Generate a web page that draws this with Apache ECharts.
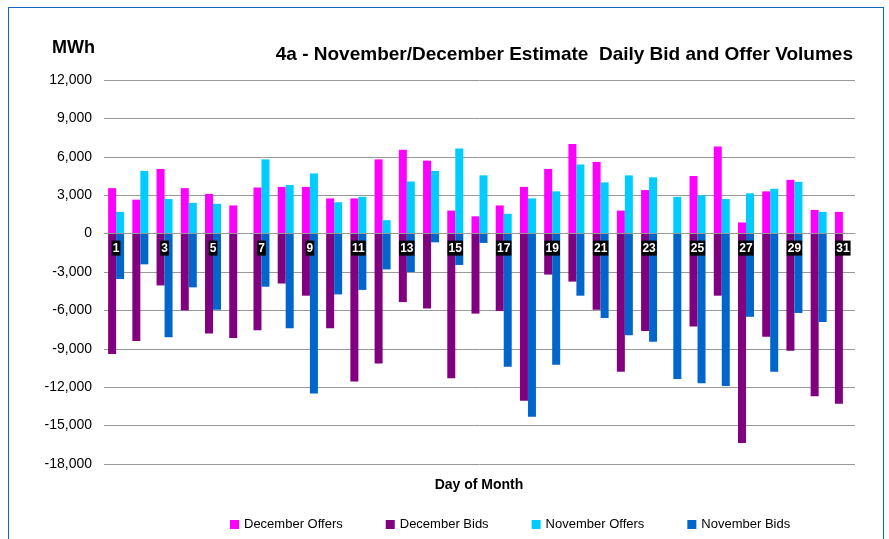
<!DOCTYPE html>
<html lang="en">
  <head>
    <meta charset="UTF-8" />
    <title>Daily Bid and Offer Volumes</title>
    <style>
      * {
        margin: 0;
        padding: 0;
      }
      body {
        background: #fff;
      }
      #frame {
        position: absolute;
        left: 8px;
        top: 7px;
        width: 874px;
        height: 560px;
        border: 1px solid #1565c8;
      }
    </style>
  </head>
  <body>
    <div id="frame"></div>
    <div id="main" style="position: absolute; left: 0; top: 0; width: 889px; height: 539px;"></div>
    <script src="https://cdn.jsdelivr.net/npm/echarts@6/dist/echarts.min.js"></script>
    <script>
      // 数据
      const days = [];
      for (let i = 1; i <= 31; i++) days.push(String(i));

      const decOffers = [3550, 2650, 5050, 3550, 3100, 2200, 3600, 3650, 3650, 2750,
        2750, 5800, 6550, 5700, 1800, 1350, 2200, 3650, 5050, 7000,
        5600, 1800, 3400, null, 4500, 6800, 870, 3300, 4200, 1850, 1700];
      const decBids = [-9400, -8400, -4050, -6000, -7800, -8150, -7550, -3900, -4850, -7400,
        -11550, -10150, -5350, -5850, -11300, -6250, -6050, -13050, -3200, -3750,
        -5950, -10800, -7600, null, -7250, -4850, -16350, -8050, -9150, -12700, -13300];
      const novOffers = [1700, 4900, 2700, 2400, 2330, null, 5800, 3800, 4700, 2450,
        2870, 1050, 4070, 4900, 6650, 4550, 1550, 2750, 3300, 5400,
        4000, 4550, 4400, 2870, 3000, 2700, 3150, 3500, 4050, 1700, null];
      const novBids = [-3550, -2400, -8100, -4200, -5950, null, -4150, -7400, -12500, -4750,
        -4400, -2800, -3000, -680, -2450, -730, -10400, -14300, -10250, -4850,
        -6600, -7950, -8450, -11350, -11700, -11900, -6500, -10800, -6200, -6900, null];

      const yMin = -18000;
      const yMax = 12000;
      const font = "Liberation Sans, Arial, sans-serif";

      function draw() {
        let myEcharts = echarts.init(document.getElementById("main"));
        // 网格高度，用来把x轴移到0线上
        const gridTop = 80;
        const gridBottom = 75;
        const gridH = 539 - gridTop - gridBottom;
        const zeroOffset = -gridH * (0 - yMin) / (yMax - yMin);
        let option = {
          animation: false,
          textStyle: { fontFamily: font },
          title: [
            {
              text: "4a - November/December Estimate  Daily Bid and Offer Volumes",
              right: 31,
              top: 40,
              textStyle: { fontSize: 19, fontWeight: "bold", color: "#000", fontFamily: font },
            },
            {
              text: "MWh",
              left: 47,
              top: 34,
              textStyle: { fontSize: 18, fontWeight: "bold", color: "#000", fontFamily: font },
            },
            {
              text: "Day of Month",
              left: 474,
              textAlign: "center",
              top: 473,
              textStyle: { fontSize: 14, fontWeight: "bold", color: "#000", fontFamily: font },
            },
          ],
          legend: {
            left: 225,
            top: 513,
            icon: "rect",
            itemWidth: 9,
            itemHeight: 9,
            itemGap: 43,
            textStyle: { fontSize: 13, color: "#000", fontFamily: font },
            data: ["December Offers", "December Bids", "November Offers", "November Bids"],
          },
          grid: { left: 104, right: 34, top: gridTop, bottom: gridBottom },
          xAxis: {
            type: "category",
            data: days,
            z: 10,
            position: "bottom",
            offset: zeroOffset,
            axisLine: { onZero: false, lineStyle: { color: "#999", width: 1 } },
            axisTick: { interval: 1, length: 3, lineStyle: { color: "#999" } },
            axisLabel: {
              interval: 1,
              margin: 7,
              color: "#fff",
              backgroundColor: "#000",
              fontWeight: "bold",
              fontSize: 12,
              padding: [2, 1, 1, 1],
              fontFamily: font,
            },
          },
          yAxis: {
            type: "value",
            min: yMin,
            max: yMax,
            interval: 3000,
            axisLine: { show: false },
            axisTick: { show: false },
            splitLine: { lineStyle: { color: "#999", width: 1 } },
            axisLabel: {
              margin: 12,
              fontSize: 14,
              color: "#000",
              fontFamily: font,
              formatter: (v) => v.toLocaleString("en-US"),
            },
          },
          series: [
            { name: "December Offers", type: "bar", stack: "dec", data: decOffers, barWidth: 8, barGap: "0%", itemStyle: { color: "#ff00ff" } },
            { name: "December Bids", type: "bar", stack: "dec", data: decBids, barWidth: 8, barGap: "0%", itemStyle: { color: "#800080" } },
            { name: "November Offers", type: "bar", stack: "nov", data: novOffers, barWidth: 8, barGap: "0%", itemStyle: { color: "#00ccff" } },
            { name: "November Bids", type: "bar", stack: "nov", data: novBids, barWidth: 8, barGap: "0%", itemStyle: { color: "#0066cc" } },
          ],
        };
        myEcharts.setOption(option);
      }
      draw();
    </script>
  </body>
</html>
